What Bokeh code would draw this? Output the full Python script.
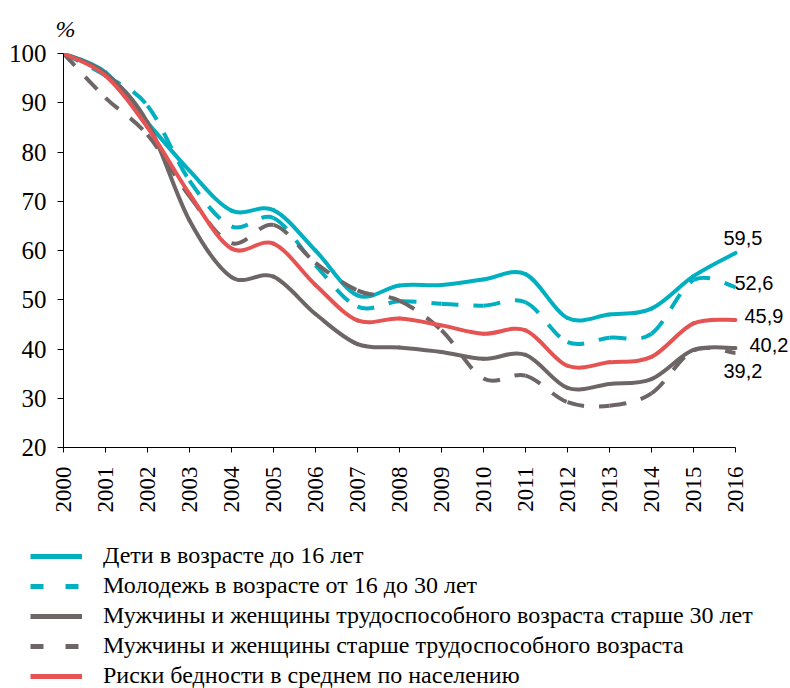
import math
from bokeh.plotting import figure
from bokeh.models import FixedTicker, Legend, LegendItem, Range1d, ColumnDataSource, Title
from bokeh.core.properties import value
from bokeh.embed import file_html
from bokeh.resources import INLINE

# ---------------- data ----------------
years = list(range(2000, 2017))
children = [100, 96.2, 86.0, 76.2, 68.1, 68.2, 60.0, 50.9, 52.9, 53.0, 54.1, 55.2, 46.3, 47.0, 48.2, 54.8, 59.5]
youth = [100, 95.5, 89.4, 74.2, 64.9, 66.6, 57.0, 48.6, 49.7, 49.2, 48.8, 49.5, 41.4, 42.3, 43.1, 54.0, 52.6]
working_30 = [100, 96.0, 86.0, 66.1, 54.6, 54.7, 47.1, 41.0, 40.3, 39.4, 38.0, 38.8, 32.1, 32.9, 33.9, 39.8, 40.2]
elderly = [100, 91.0, 83.5, 71.0, 61.5, 65.2, 57.5, 51.9, 49.8, 43.8, 34.0, 34.6, 29.2, 28.5, 31.0, 39.7, 39.2]
average = [100, 95.5, 85.0, 71.5, 60.4, 61.4, 53.0, 45.8, 46.2, 44.8, 43.1, 43.8, 36.6, 37.3, 38.4, 45.2, 45.9]

series_names = [
    "Дети в возрасте до 16 лет",
    "Молодежь в возрасте от 16 до 30 лет",
    "Мужчины и женщины трудоспособного возраста старше 30 лет",
    "Мужчины и женщины старше трудоспособного возраста",
    "Риски бедности в среднем по населению",
]
y_ticks = [20, 30, 40, 50, 60, 70, 80, 90, 100]
unit_label = "%"

# ---------------- styles ----------------
series_values = [children, youth, working_30, elderly, average]
colors = ["#00B0C0", "#00B0C0", "#6E6666", "#6E6666", "#E55353"]
dashes = ["solid", "17 15", "solid", "17 15", "solid"]
caps = ["round", "butt", "round", "butt", "round"]
legend_dashes = ["solid", "13 22", "solid", "13 22", "solid"]
# end-label offsets, in series order
label_dx = [-12, -1, 14, -12, 9]
label_dy = [-15, -4, -3, 18, -4]

SERIF = "Liberation Serif"
SANS = "Liberation Sans"


def bezier_data(xs, ys):
    """Control points of a smoothed (Catmull-Rom style) curve through the data points."""
    n = len(xs)
    d = dict(x0=[], y0=[], x1=[], y1=[], cx0=[], cy0=[], cx1=[], cy1=[])
    for i in range(n - 1):
        xp, yp = (xs[i - 1], ys[i - 1]) if i > 0 else (xs[i], ys[i])
        xn, yn = (xs[i + 2], ys[i + 2]) if i + 2 < n else (xs[i + 1], ys[i + 1])
        d["x0"].append(xs[i]); d["y0"].append(ys[i])
        d["x1"].append(xs[i + 1]); d["y1"].append(ys[i + 1])
        d["cx0"].append(xs[i] + (xs[i + 1] - xp) / 6.0)
        d["cy0"].append(ys[i] + (ys[i + 1] - yp) / 6.0)
        d["cx1"].append(xs[i + 1] - (xn - xs[i]) / 6.0)
        d["cy1"].append(ys[i + 1] - (yn - ys[i]) / 6.0)
    return ColumnDataSource(d)


# ---------------- chart ----------------
p = figure(
    width=790, height=520,
    x_range=Range1d(2000, 2017.31), y_range=Range1d(20, 100),
    output_backend="svg", toolbar_location=None,
    min_border_left=63, min_border_right=0, min_border_top=53, min_border_bottom=73,
)
p.xgrid.visible = False
p.ygrid.visible = False
p.outline_line_color = None

p.xaxis.ticker = FixedTicker(ticks=years)
p.xaxis.bounds = (years[0], years[-1])
p.xaxis.major_label_orientation = math.pi / 2
p.xaxis.major_label_overrides = {y: str(y) for y in years}
p.xaxis.major_tick_out = 5
p.xaxis.major_tick_in = 0
p.xaxis.major_label_standoff = 14
p.xaxis.major_label_text_font_size = "23px"
p.yaxis.ticker = FixedTicker(ticks=y_ticks)
p.yaxis.major_tick_out = 6
p.yaxis.major_tick_in = 0
p.yaxis.major_label_standoff = 11
p.yaxis.major_label_text_font_size = "25px"
for ax in (p.xaxis, p.yaxis):
    ax.minor_tick_line_color = None
    ax.axis_line_color = "black"
    ax.major_tick_line_color = "black"
    ax.major_label_text_font = SERIF
    ax.major_label_text_color = "black"

for vals, col, dash, cap in zip(series_values, colors, dashes, caps):
    p.bezier(x0="x0", y0="y0", x1="x1", y1="y1", cx0="cx0", cy0="cy0", cx1="cx1", cy1="cy1",
             source=bezier_data(years, vals), line_color=col, line_width=4,
             line_dash=dash, line_cap=cap)

last_vals = [v[-1] for v in series_values]
p.text(
    x=[years[-1]] * len(last_vals), y=last_vals,
    text=[f"{v:.1f}".replace(".", ",") for v in last_vals],
    x_offset=label_dx, y_offset=label_dy,
    text_align="left", text_baseline="middle",
    text_font=value(SANS), text_font_size="20px", text_color="black",
)

t = Title(text=unit_label, align="left", offset=-8, standoff=24,
          text_font=SERIF, text_font_style="italic", text_font_size="24px", text_color="black")
p.add_layout(t, "above")

# ---------------- legend (separate panel below the chart) ----------------
lg = figure(
    width=790, height=168, x_range=Range1d(0, 790), y_range=Range1d(0, 168),
    output_backend="svg", toolbar_location=None,
    x_axis_location=None, y_axis_location=None,
    min_border_left=0, min_border_right=0, min_border_top=0, min_border_bottom=0,
)
lg.grid.visible = False
lg.outline_line_color = None
items = []
for name, vals, col, dash in zip(series_names, series_values, colors, legend_dashes):
    # key lines: data lie outside this panel's ranges, only the legend glyph shows
    r = lg.line(x=years, y=vals, line_color=col, line_width=5, line_dash=dash)
    items.append(LegendItem(label=name, renderers=[r]))
legend = Legend(
    items=items, location=(30, -1), orientation="vertical",
    glyph_width=52, glyph_height=20, label_height=20, spacing=3, padding=0, margin=0,
    label_standoff=21, label_text_font=SERIF, label_text_font_size="24px",
    label_text_color="black", border_line_color=None, background_fill_alpha=0,
)
lg.add_layout(legend)

open("out.html", "w").write(file_html([p, lg], INLINE))
